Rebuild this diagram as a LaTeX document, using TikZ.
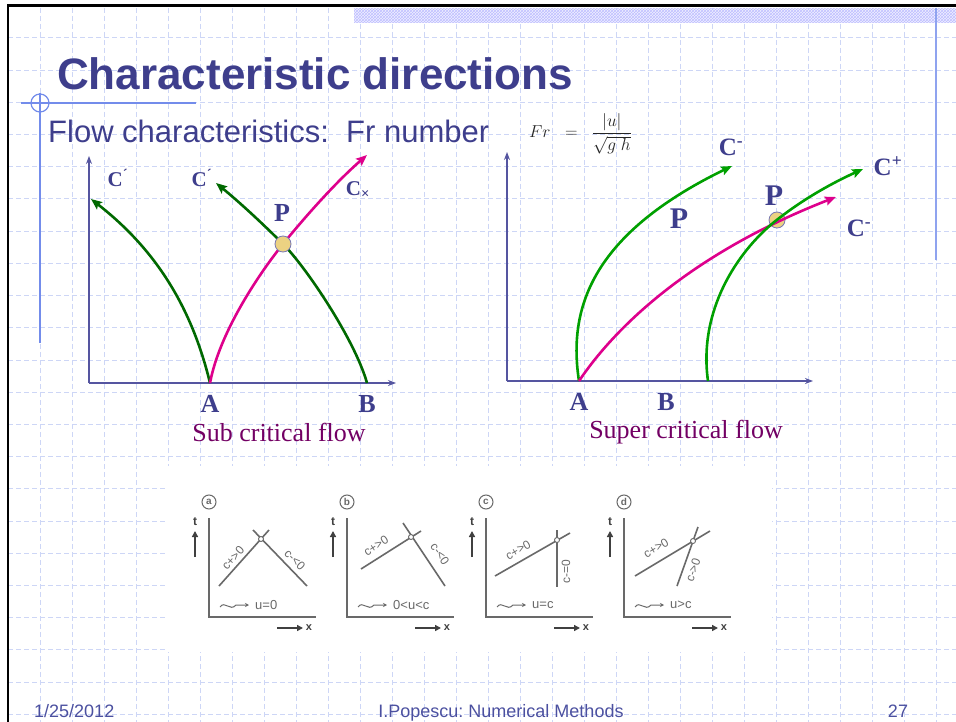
\documentclass[tikz,border=0pt]{standalone}
\usepackage{amsmath}
\usepackage{fontspec}
\setmainfont{Liberation Serif}
\newfontfamily\slidefont{Liberation Sans}
\usetikzlibrary{arrows.meta,positioning,patterns}
\definecolor{slidetext}{RGB}{62,62,140}
\definecolor{axisblue}{RGB}{85,85,160}
\definecolor{darkgreen}{RGB}{0,105,0}
\definecolor{brightgreen}{RGB}{0,160,0}
\definecolor{charpink}{RGB}{222,0,140}
\definecolor{flowpurple}{RGB}{115,0,100}
\definecolor{gridblue}{RGB}{205,214,246}
\definecolor{railblue}{RGB}{115,140,235}
\definecolor{pointfill}{RGB}{236,210,130}
\definecolor{sketchgray}{RGB}{105,105,105}
\definecolor{footblue}{RGB}{75,80,160}

\begin{document}
\begin{tikzpicture}[x=1pt,y=-1pt,
    gridline/.style={gridblue,line width=1pt,dash pattern=on 5pt off 3pt},
    axisline/.style={axisblue,line width=1.3pt,-{Stealth[length=8pt,width=6pt]}},
    charline/.style={line width=2.6pt,-{Stealth[length=11pt,width=9pt,inset=2pt]}},
    ptlabel/.style={slidetext,font=\fontsize{26}{26}\selectfont\bfseries,inner sep=0pt},
    clabel/.style={slidetext,font=\fontsize{21}{21}\selectfont\bfseries,inner sep=0pt},
    bigclabel/.style={slidetext,font=\fontsize{25}{25}\selectfont\bfseries,inner sep=0pt},
    crosspt/.style={circle,draw=axisblue!80,fill=pointfill,line width=0.8pt,minimum size=16pt,inner sep=0pt},
    flowname/.style={flowpurple,font=\fontsize{26}{26}\selectfont,inner sep=0pt},
    sketch/.style={sketchgray,line width=1.6pt},
    sketchtext/.style={sketchgray,font=\slidefont\fontsize{12}{12}\selectfont,inner sep=0pt},
    sketchdot/.style={circle,draw=sketchgray,fill=white,line width=0.9pt,minimum size=5pt,inner sep=0pt},
    sketcharrow/.style={black!75,line width=1.6pt,-{Triangle[length=6pt,width=6pt]}},
  ]
  \useasboundingbox (0,0) rectangle (956,722);
  \fill[white] (0,0) rectangle (956,722);

  % slide background
  \foreach \gx in {40,72,...,936}
    \draw[gridline] (\gx,8) -- (\gx,722);
  \foreach \gy in {0,...,21}
    \draw[gridline] (8,{38+32.2*\gy}) -- (956,{38+32.2*\gy});
  \fill[blue!6] (354,9) rectangle (956,23);
  \fill[pattern=crosshatch,pattern color=blue!25] (354,9) rectangle (956,23);
  \draw[black,line width=2.5pt] (8,722) -- (8,5.5) -- (956,5.5);
  \draw[railblue!80,line width=2pt] (936,8) -- (936,260);
  \draw[railblue,line width=1.6pt] (40,93) -- (40,343);
  \draw[railblue,line width=1.2pt] (21,103) -- (196,103);
  \draw[railblue,line width=1.2pt] (40,103) circle (9);

  % title
  \node[anchor=base west,inner sep=0pt,slidetext,font=\slidefont\bfseries\fontsize{44}{44}\selectfont] (title) at (57,90) {Characteristic directions};
  \node[anchor=base west,inner sep=0pt,slidetext,font=\slidefont\fontsize{31}{31}\selectfont] (subtitle) at (48,143) {Flow characteristics:\ \ Fr number};
  \node[anchor=base west,inner sep=0pt,black!85,font=\fontsize{17}{17}\selectfont] (froude) at (529,138) {$Fr\;\;=\;\;\displaystyle\frac{|u|}{\sqrt{g\;h}}$};

  % sub critical
  \coordinate (oL) at (89,383);
  \coordinate (yL) at (89,156);
  \coordinate (xL) at (396,383);
  \coordinate (A1) at (210,383);
  \coordinate (B1) at (367,383);
  \coordinate (P1) at (283,244);
  \coordinate (tipL1) at (91,199);
  \coordinate (tipL2) at (216,183);
  \coordinate (tipL3) at (367,155);
  \draw[axisline] (oL) -- (yL);
  \draw[axisline] (oL) -- (xL);
  \draw[charline,darkgreen] (A1) .. controls (190,300) and (150,245) .. (tipL1);
  \draw[charline,darkgreen] (B1) .. controls (355,340) and (306,267) .. (P1) .. controls (260,221) and (238,201) .. (tipL2);
  \draw[charline,charpink] (A1) .. controls (220,330) and (262,270) .. (P1) .. controls (305,217) and (335,183) .. (tipL3);
  \node[crosspt] (P1dot) at (P1) {};
  \node[ptlabel] (plab1) at (282,213) {P};
  \node[clabel] (cl1) at (118,178) {C\textsuperscript{´}};
  \node[clabel] (cl2) at (202,178) {C\textsuperscript{´}};
  \node[clabel] (cl3) at (358,190) {C\textsubscript{×}};
  \node[ptlabel,below=12pt of A1] (alab1) {A};
  \node[ptlabel,below=12pt of B1] (blab1) {B};
  \node[flowname] (subflow) at (279,432) {Sub critical flow};

  % super critical
  \coordinate (oR) at (507,381);
  \coordinate (yR) at (507,152);
  \coordinate (xR) at (813,381);
  \coordinate (A2) at (579,381);
  \coordinate (B2) at (666,381);
  \coordinate (startR2) at (708,381);
  \coordinate (P2) at (773,223);
  \coordinate (tipR1) at (732,166);
  \coordinate (tipR2) at (836,197);
  \coordinate (tipR3) at (863,169);
  \draw[axisline] (oR) -- (yR);
  \draw[axisline] (oR) -- (xR);
  \node[crosspt] (P2dot) at (777,220) {};
  \draw[charline,brightgreen] (A2) .. controls (568,310) and (590,235) .. (tipR1);
  \draw[charline,charpink] (A2) .. controls (620,320) and (700,250) .. (tipR2);
  \draw[charline,brightgreen] (startR2) .. controls (698,310) and (738,252) .. (P2) .. controls (800,201) and (830,184) .. (tipR3);
  \node[ptlabel,font=\fontsize{30}{30}\selectfont\bfseries] (plab2) at (774,196) {P};
  \node[ptlabel,font=\fontsize{30}{30}\selectfont\bfseries] (plab3) at (679,219) {P};
  \node[bigclabel] (cr1) at (731,147) {C\textsuperscript{-}};
  \node[bigclabel] (cr2) at (888,166) {C\textsuperscript{+}};
  \node[bigclabel] (cr3) at (859,228) {C\textsuperscript{-}};
  \node[ptlabel,below=12pt of A2] (alab2) {A};
  \node[ptlabel,below=12pt of B2] (blab2) {B};
  \node[flowname] (superflow) at (686,432) {Super critical flow};

  % the four small sketches
  \fill[white] (168,466) rectangle (772,652);
  \foreach \ox/\tag/\ulab in {209/a/{u=0},347/b/{0<u<c},486/c/{u=c},624/d/{u>c}}{
    \node[circle,draw=sketchgray!70,line width=1pt,minimum size=14pt,inner sep=0pt,sketchtext,font=\slidefont\bfseries\fontsize{10}{10}\selectfont] (tag\tag) at (\ox,502) {\tag};
    \node[sketchtext,font=\slidefont\bfseries\fontsize{12}{12}\selectfont,black!75] (t\tag) at ({\ox-14},522) {t};
    \node[sketchtext,font=\slidefont\bfseries\fontsize{11}{11}\selectfont,black!75] (x\tag) at ({\ox+100},628) {x};
    \draw[sketch,line width=1.4pt] (\ox,518) -- (\ox,617) -- ({\ox+107},617);
    \draw[sketcharrow] ({\ox-14},557) -- ({\ox-14},531);
    \draw[sketcharrow] ({\ox+68},628) -- ({\ox+94},628);
    \draw[sketchgray,line width=1pt,-{Stealth[length=4pt,width=4pt]}] ({\ox+11},607) .. controls ({\ox+16},600) and ({\ox+21},612) .. ({\ox+27},605) -- ({\ox+40},605);
    \node[sketchtext,anchor=west,font=\slidefont\fontsize{13}{13}\selectfont] (u\tag) at ({\ox+46},605) {\ulab};
  }
  % (a)
  \draw[sketch] (219,586) -- (269,530);
  \draw[sketch] (307,586) -- (253,530);
  \node[sketchdot] (da) at (261,539) {};
  \node[sketchtext,rotate=48] (cpa) at (233,558) {c+>0};
  \node[sketchtext,rotate=-45] (cma) at (295,560) {c-<0};
  % (b)
  \draw[sketch] (361,569) -- (421,531);
  \draw[sketch] (445,586) -- (403,523);
  \node[sketchtext,rotate=33] (cpb) at (376,546) {c+>0};
  \node[sketchtext,rotate=-56] (cmb) at (440,554) {c-<0};
  \node[sketchdot] (db) at (411,537) {};
  % (c)
  \draw[sketch] (495,576) -- (570,533);
  \draw[sketch] (557,530) -- (557,587);
  \node[sketchdot] (dc) at (557,540) {};
  \node[sketchtext,rotate=30] (cpc) at (518,550) {c+>0};
  \node[sketchtext,rotate=90] (cmc) at (566,572) {c-=0};
  % (d)
  \draw[sketch] (635,576) -- (710,531);
  \draw[sketch] (677,586) -- (698,527);
  \node[sketchdot] (dd) at (693,541) {};
  \node[sketchtext,rotate=31] (cpd) at (656,548) {c+>0};
  \node[sketchtext,rotate=71] (cmd) at (693,570) {c->0};

  % footer
  \node[anchor=base west,inner sep=0pt,footblue,font=\slidefont\fontsize{18}{18}\selectfont] (date) at (34,717) {1/25/2012};
  \node[anchor=base,inner sep=0pt,footblue,font=\slidefont\fontsize{18}{18}\selectfont] (author) at (501,717) {I.Popescu:\ Numerical Methods};
  \node[anchor=base,inner sep=0pt,footblue,font=\slidefont\fontsize{18}{18}\selectfont] (page) at (898,717) {27};
\end{tikzpicture}
\end{document}
